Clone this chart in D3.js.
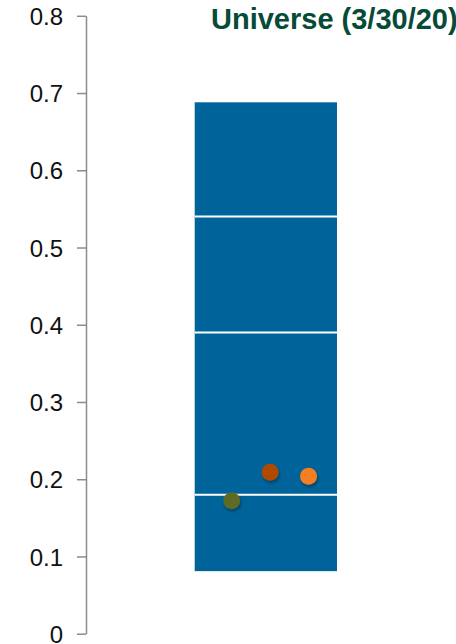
<!DOCTYPE html>
<html>
<head>
<meta charset="utf-8">
<script src="https://cdn.jsdelivr.net/npm/d3@7"></script>
<style>
  html, body { margin: 0; padding: 0; background: #fff; overflow: hidden; }
  svg { display: block; }
</style>
</head>
<body>
<div id="chart"></div>
<script>
// Distribution box for the universe: breakpoints from low to high
const boxLabel = "Universe (3/30/20)";
const boxBreaks = [0.081, 0.180, 0.390, 0.540, 0.688];

// Individual holdings plotted over the box
const pointNames = ["A", "B", "C"];
const pointValues = [0.172, 0.209, 0.204];
const pointColors = ["#5e6a27", "#b04a06", "#f47f20"];

// Axis ticks
const tickValues = [0, 0.1, 0.2, 0.3, 0.4, 0.5, 0.6, 0.7, 0.8];
const tickLabels = ["0", "0.1", "0.2", "0.3", "0.4", "0.5", "0.6", "0.7", "0.8"];

const W = 456, H = 644;
const svg = d3.select("#chart").append("svg")
  .attr("width", W).attr("height", H);

const defs = svg.append("defs");
const shadow = defs.append("filter").attr("id", "dotShadow")
  .attr("x", "-50%").attr("y", "-50%").attr("width", "200%").attr("height", "200%");
shadow.append("feDropShadow")
  .attr("dx", 1).attr("dy", 2).attr("stdDeviation", 1.5)
  .attr("flood-color", "#000").attr("flood-opacity", 0.35);

const y = d3.scaleLinear().domain([0, 0.8]).range([633.7, 15.8]);
// box spans a fixed horizontal slot
const boxX0 = 194.7, boxX1 = 337;
const xBox = d3.scaleLinear().domain([0, 1]).range([boxX0, boxX1]);
const xPts = d3.scalePoint().domain(pointNames).range([xBox(0.26), xBox(0.8)]);

// y axis
const axis = d3.axisLeft(y)
  .tickValues(tickValues)
  .tickFormat((d, i) => tickLabels[i])
  .tickSize(9)
  .tickSizeOuter(0)
  .tickPadding(14);

const gAxis = svg.append("g").attr("transform", "translate(86,0)").call(axis);
gAxis.select(".domain").attr("stroke", "#8c8c8c").attr("stroke-width", 1.5);
gAxis.selectAll(".tick line").attr("stroke", "#8c8c8c").attr("stroke-width", 1.5);
gAxis.selectAll(".tick text")
  .attr("fill", "#111")
  .attr("font-family", "Liberation Sans, Arial, sans-serif")
  .attr("font-size", 24)
  .attr("dy", "0.36em");

// box body
svg.append("rect")
  .attr("x", xBox(0)).attr("width", xBox(1) - xBox(0))
  .attr("y", y(boxBreaks[4]))
  .attr("height", y(boxBreaks[0]) - y(boxBreaks[4]))
  .attr("fill", "#00639a");

// internal breaks
svg.selectAll("line.break")
  .data(boxBreaks.slice(1, 4))
  .join("line")
  .attr("class", "break")
  .attr("x1", xBox(0)).attr("x2", xBox(1))
  .attr("y1", d => y(d)).attr("y2", d => y(d))
  .attr("stroke", "#fff").attr("stroke-width", 2);

// points
svg.selectAll("circle.pt")
  .data(pointValues)
  .join("circle")
  .attr("class", "pt")
  .attr("cx", (d, i) => xPts(pointNames[i]))
  .attr("cy", d => y(d))
  .attr("r", 8.5)
  .attr("fill", (d, i) => pointColors[i])
  .attr("filter", "url(#dotShadow)");

// title
svg.append("text")
  .attr("x", 211).attr("y", 29)
  .attr("fill", "#064a38")
  .attr("font-family", "Liberation Sans, Arial, sans-serif")
  .attr("font-weight", "bold")
  .attr("font-size", 29)
  .text(boxLabel);
</script>
</body>
</html>
